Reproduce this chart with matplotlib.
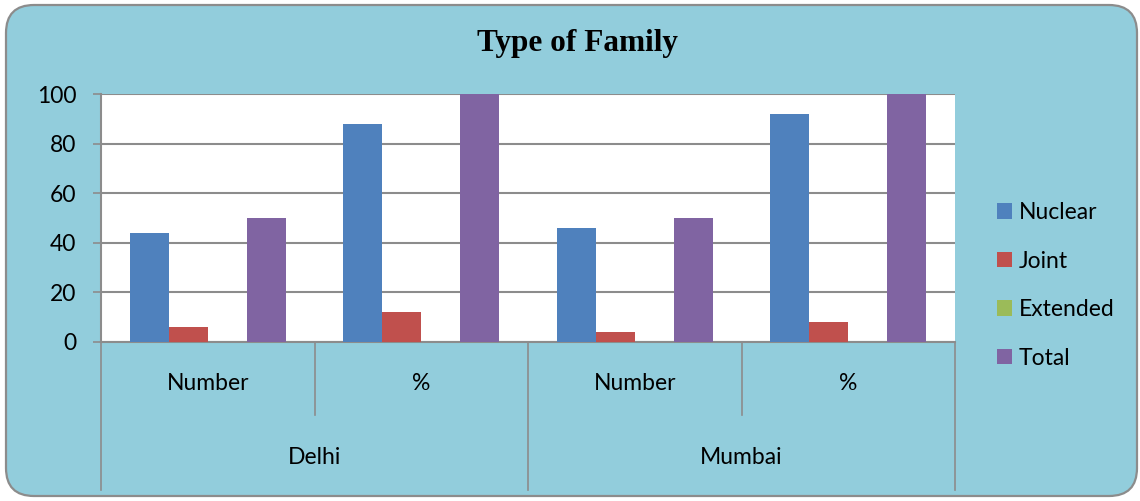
import matplotlib
matplotlib.use("Agg")
import matplotlib.pyplot as plt
from matplotlib.patches import FancyBboxPatch
import numpy as np

# === Данные ===
cities = ["Delhi", "Mumbai"]
subcats = ["Number", "%", "Number", "%"]
series = ["Nuclear", "Joint", "Extended", "Total"]
nuclear = [44, 88, 46, 92]
joint = [6, 12, 4, 8]
extended = [0, 0, 0, 0]
total = [50, 100, 50, 100]
colors = ["#4F81BD", "#C0504D", "#9BBB59", "#8064A2"]
yticks = [0, 20, 40, 60, 80, 100]

W, H = 1140, 501
bg = "#92CDDC"
grey = "#8C8C8C"
font = "Lato"
fs = 16.5

fig = plt.figure(figsize=(W / 100, H / 100), dpi=100)
fig.patch.set_facecolor("white")

# скруглённая рамка
frame = FancyBboxPatch((6, 5), 1131, 491, boxstyle="round,pad=0,rounding_size=28",
                       transform=None, facecolor=bg, edgecolor=grey, linewidth=1.6,
                       zorder=-10)
fig.patches.append(frame)

x0, x1, ytop, ybot = 101, 955, 94, 342
ax = fig.add_axes([x0 / W, (H - ybot) / H, (x1 - x0) / W, (ybot - ytop) / H])
ax.set_facecolor("white")

x = np.arange(len(subcats))
w = 39 / 213.5
for i, (name, vals) in enumerate(zip(series, [nuclear, joint, extended, total])):
    ax.bar(x + (i - 1.5) * w, vals, w, color=colors[i], label=name, zorder=3)

ax.set_xlim(-0.5, len(subcats) - 0.5)
ax.set_ylim(0, 100)
ax.set_yticks(yticks)
ax.yaxis.grid(True, color=grey, linewidth=1.5, zorder=1)
ax.tick_params(axis="y", length=5.8, width=1.2, color=grey, labelsize=fs, pad=12)
ax.tick_params(axis="x", length=0, labelbottom=False)
for lab in ax.get_yticklabels():
    lab.set_fontfamily(font)
for s in ["top", "right"]:
    ax.spines[s].set_visible(False)
for s in ["left", "bottom"]:
    ax.spines[s].set_color(grey)
    ax.spines[s].set_linewidth(1.5)

# двухуровневая ось категорий
tr = ax.get_xaxis_transform()
ph = ybot - ytop
inner = -(415 - ybot) / ph
outer = -(490 - ybot) / ph
for xv in [-0.5, 1.5, 3.5]:
    ax.plot([xv, xv], [0, outer], transform=tr, color=grey, lw=1.2, clip_on=False)
for xv in [0.5, 2.5]:
    ax.plot([xv, xv], [0, inner], transform=tr, color=grey, lw=1.2, clip_on=False)
for xi, lab in zip(x, subcats):
    ax.text(xi, -(383 - ybot) / ph, lab, transform=tr, ha="center", va="center",
            fontsize=fs, fontfamily=font)
for ci, city in enumerate(cities):
    ax.text(ci * 2 + 0.5, -(458 - ybot) / ph, city, transform=tr, ha="center", va="center",
            fontsize=fs, fontfamily=font)

fig.text(577 / W, (H - 44) / H, "Type of Family", ha="center", va="center",
         fontsize=22.5, fontweight="bold", fontfamily="Liberation Serif")

fig.legend(loc="upper left", bbox_to_anchor=(988 / W, (H - 193) / H), frameon=False,
           prop={"family": font, "size": fs}, handlelength=0.65, handleheight=0.65,
           handletextpad=0.3, labelspacing=1.2, borderaxespad=0)

fig.savefig("out.png", dpi=100)
